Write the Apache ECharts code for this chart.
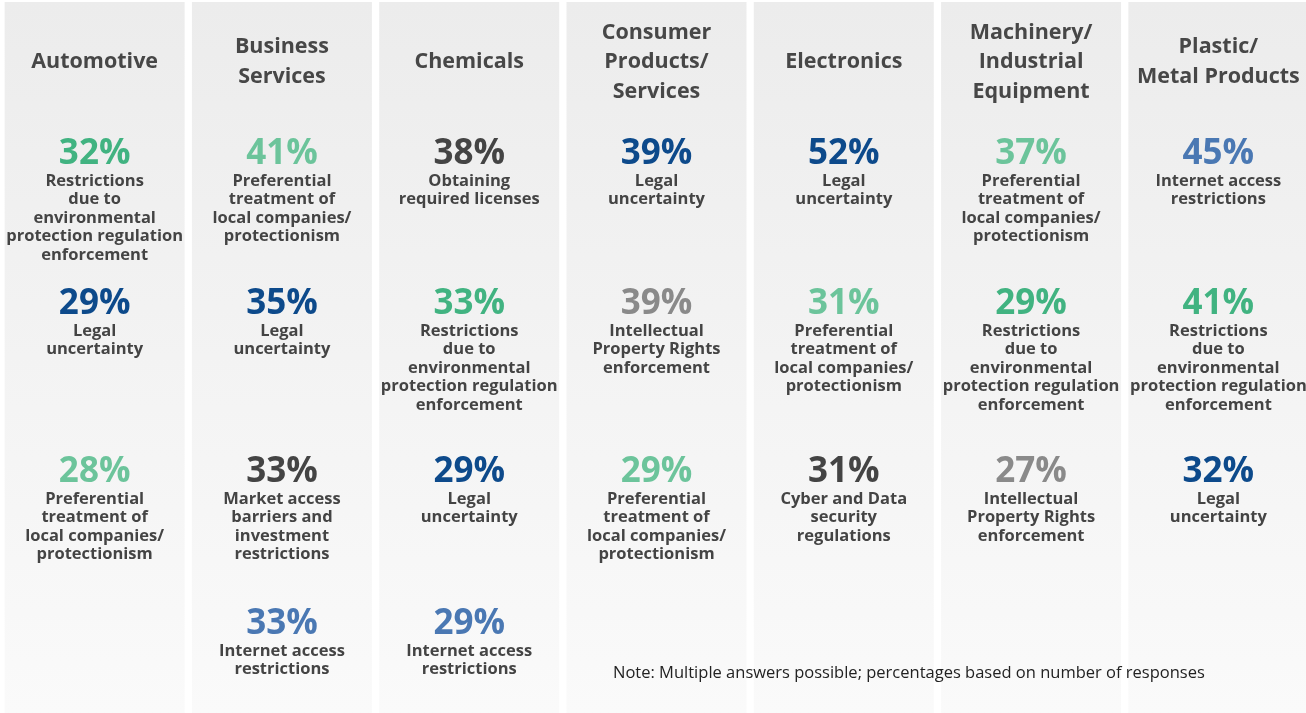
<!DOCTYPE html>
<html>
<head>
<meta charset="utf-8">
<script src="https://cdn.jsdelivr.net/npm/echarts@6/dist/echarts.min.js"></script>
<style>
  html, body { margin: 0; padding: 0; background: #ffffff; }
  #chart { width: 1306px; height: 713px; }
</style>
</head>
<body>
<div id="chart"></div>
<script>
// Sectors (columns) and their header tick labels
const sectors = ['Automotive', 'Business Services', 'Chemicals', 'Consumer Products/Services',
  'Electronics', 'Machinery/Industrial Equipment', 'Plastic/Metal Products'];
const sectorHeaders = ['Automotive', 'Business\nServices', 'Chemicals', 'Consumer\nProducts/\nServices',
  'Electronics', 'Machinery/\nIndustrial\nEquipment', 'Plastic/\nMetal Products'];

// Top challenges per sector, by rank (share of responses, %)
const rank1Values = [32, 41, 38, 39, 52, 37, 45];
const rank1Issues = ['env', 'pref', 'licenses', 'legal', 'legal', 'pref', 'internet'];
const rank2Values = [29, 35, 33, 39, 31, 29, 41];
const rank2Issues = ['legal', 'legal', 'env', 'ipr', 'pref', 'env', 'env'];
const rank3Values = [28, 33, 29, 29, 31, 27, 32];
const rank3Issues = ['pref', 'market', 'legal', 'pref', 'cyber', 'ipr', 'legal'];
const rank4Values = [null, 33, 29, null, null, null, null];
const rank4Issues = [null, 'internet', 'internet', null, null, null, null];

// Issue names
const issueText = {
  env: 'Restrictions\ndue to\nenvironmental\nprotection regulation\nenforcement',
  pref: 'Preferential\ntreatment of\nlocal companies/\nprotectionism',
  licenses: 'Obtaining\nrequired licenses',
  legal: 'Legal\nuncertainty',
  internet: 'Internet access\nrestrictions',
  ipr: 'Intellectual\nProperty Rights\nenforcement',
  market: 'Market access\nbarriers and\ninvestment\nrestrictions',
  cyber: 'Cyber and Data\nsecurity\nregulations'
};
const issueColor = {
  env: '#41b381', pref: '#6cc49b', legal: '#0d4a8b', internet: '#4a78b3',
  licenses: '#444444', market: '#444444', cyber: '#444444', ipr: '#8a8a8a'
};

// Layout: vertical slot (top of the percentage line) for each rank row
const rowTop = [135, 285, 453, 605];

const FONT = '"Open Sans", sans-serif';

const ranks = [
  [rank1Values, rank1Issues], [rank2Values, rank2Issues],
  [rank3Values, rank3Issues], [rank4Values, rank4Issues]
];
const cells = [];
ranks.forEach(([vals, issues], r) => {
  vals.forEach((v, i) => {
    if (v == null) return;
    cells.push({ value: [i, rowTop[r], v, issues[i]] });
  });
});

const rich = {};
Object.keys(issueColor).forEach(k => {
  rich['p_' + k] = { fontSize: 35, fontWeight: 'bold', color: issueColor[k], lineHeight: 35, fontFamily: FONT };
});
rich.t = { fontSize: 16.5, fontWeight: 'bold', color: '#444444', lineHeight: 18.5, fontFamily: FONT };

const chart = echarts.init(document.getElementById('chart'), null, { renderer: 'canvas' });
chart.setOption({
  animation: false,
  backgroundColor: '#ffffff',
  title: {
    text: 'Note: Multiple answers possible; percentages based on number of responses',
    left: 608, top: 660,
    textStyle: { fontFamily: FONT, fontSize: 16.5, fontWeight: 'normal', color: '#222222' }
  },
  grid: { left: 1, top: 2, width: 1311, height: 711, outerBoundsMode: 'none', containLabel: false },
  xAxis: {
    type: 'category',
    data: sectors,
    position: 'top',
    z: 10,
    axisLine: { show: false },
    axisTick: { show: false },
    splitLine: { show: false },
    axisLabel: {
      interval: 0,
      margin: -60,
      verticalAlign: 'middle',
      formatter: (v, i) => sectorHeaders[i],
      fontFamily: FONT, fontSize: 21.5, fontWeight: 'bold',
      color: '#474747', lineHeight: 29.5
    }
  },
  yAxis: { type: 'value', inverse: true, min: 0, max: 711, show: false },
  series: [
    {
      type: 'bar',
      silent: true,
      barWidth: 180,
      data: sectors.map(() => 711),
      itemStyle: {
        color: new echarts.graphic.LinearGradient(0, 0, 0, 1, [
          { offset: 0, color: '#ececec' },
          { offset: 1, color: '#fafafa' }
        ])
      }
    },
    {
      type: 'scatter',
      symbolSize: 0,
      itemStyle: { opacity: 1 },
      data: cells,
      label: {
        show: true,
        position: 'bottom',
        distance: 0,
        align: 'center',
        formatter: p => {
          const [, , v, k] = p.value;
          const lines = issueText[k].split('\n').map(s => '{t|' + s + '}').join('\n');
          return '{p_' + k + '|' + v + '%}\n' + lines;
        },
        rich: rich
      }
    }
  ]
});
</script>
</body>
</html>
